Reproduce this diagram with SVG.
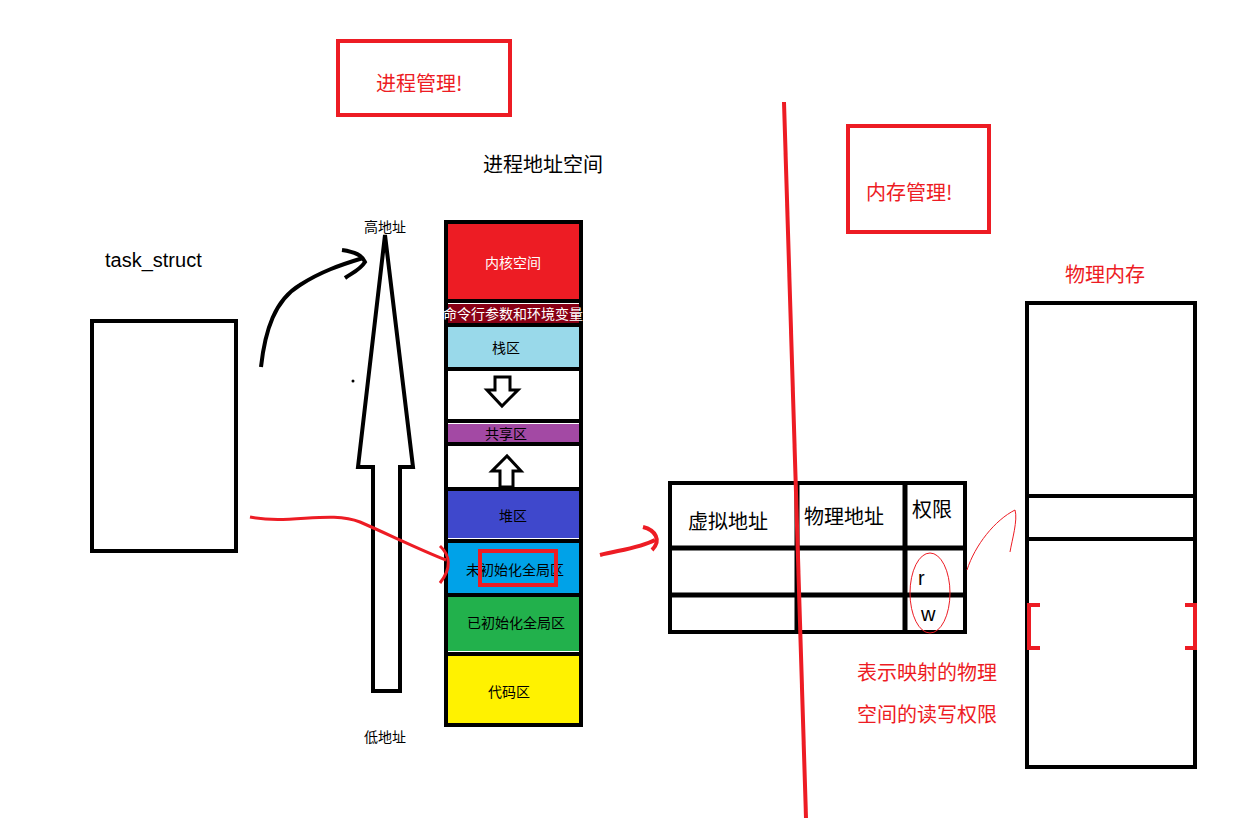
<svg xmlns="http://www.w3.org/2000/svg" width="1247" height="818" viewBox="0 0 1247 818">
<style>
text{font-family:"Microsoft YaHei","Noto Sans CJK SC",sans-serif}
.bk{fill:none;stroke:#000;stroke-width:4}
.rd{fill:none;stroke:#ed1c24;stroke-width:4}
.t{font-size:20px;fill:#000}
.r{font-size:20px;fill:#ed1c24}
.s{font-size:14px;text-anchor:middle}
</style>
<rect width="1247" height="818" fill="#fff"/>
<g id="title-proc"><rect x="338" y="41" width="172" height="74" class="rd"/><text x="376" y="91" class="r">进程管理!</text></g>
<text x="483" y="172" class="t" font-size="22">进程地址空间</text>
<g id="title-mem"><rect x="848" y="126" width="141" height="106" class="rd"/><text x="866" y="200" class="r">内存管理!</text></g>
<g id="task"><text x="105" y="267" class="t" style="font-family:'Liberation Sans',sans-serif">task_struct</text><rect x="92" y="321" width="144" height="230" class="bk"/></g>
<g id="addr-arrow">
<path d="M373,691 L373,467 L358,467 L385,235 L413,467 L400,467 L400,691 Z" class="bk" stroke-width="3"/>
<text x="385" y="232" class="s" font-size="15">高地址</text>
<text x="385" y="742" class="s" font-size="15">低地址</text>
<circle cx="353" cy="381" r="1.5" fill="#000"/>
</g>
<g id="stack">
<rect x="446" y="222" width="135" height="503" fill="#fff" stroke="#000" stroke-width="4"/>
<rect x="448" y="224" width="131" height="76" fill="#ed1c24"/>
<rect x="448" y="304" width="131" height="19" fill="#880015"/>
<rect x="448" y="327" width="131" height="40" fill="#99d9ea"/>
<rect x="448" y="424" width="131" height="18" fill="#a349a4"/>
<rect x="448" y="490" width="131" height="48" fill="#3f48cc"/>
<rect x="448" y="543" width="131" height="50" fill="#00a2e8"/>
<rect x="448" y="597" width="131" height="54" fill="#22b14c"/>
<rect x="448" y="656" width="131" height="67" fill="#fff200"/>
<g stroke="#000" stroke-width="4"><line x1="446" y1="301" x2="581" y2="301"/><line x1="446" y1="325" x2="581" y2="325"/><line x1="446" y1="369" x2="581" y2="369"/><line x1="446" y1="421" x2="581" y2="421"/><line x1="446" y1="444" x2="581" y2="444"/><line x1="446" y1="489" x2="581" y2="489"/><line x1="446" y1="541" x2="581" y2="541"/><line x1="446" y1="595" x2="581" y2="595"/><line x1="446" y1="654" x2="581" y2="654"/></g>
<text x="513" y="268" class="s" fill="#fff" font-size="15">内核空间</text>
<text x="513" y="319" class="s" fill="#fff" font-size="12">命令行参数和环境变量</text>
<text x="506" y="353" class="s" fill="#000" font-size="13">栈区</text>
<path d="M495,377 L510,377 L510,390 L518,390 L502,406 L487,390 L495,390 Z" fill="#fff" stroke="#000" stroke-width="3"/>
<text x="506" y="439" class="s" fill="#000" font-size="14">共享区</text>
<path d="M500,487 L500,471 L492,471 L507,456 L521,471 L513,471 L513,487 Z" fill="#fff" stroke="#000" stroke-width="3"/>
<text x="513" y="521" class="s" fill="#000" font-size="15">堆区</text>
<text x="515" y="575" class="s" fill="#000" font-size="16">未初始化全局区</text>
<rect x="480" y="551" width="76" height="34" fill="none" stroke="#ed1c24" stroke-width="4"/>
<text x="516" y="628" class="s" fill="#000" font-size="16">已初始化全局区</text>
<text x="509" y="697" class="s" fill="#000" font-size="15">代码区</text>
</g>
<g id="table">
<rect x="670" y="483" width="295" height="149" class="bk" stroke-width="5"/>
<g stroke="#000" stroke-width="5"><line x1="670" y1="548" x2="965" y2="548"/><line x1="670" y1="595" x2="965" y2="595"/><line x1="797" y1="483" x2="797" y2="632"/><line x1="905" y1="483" x2="905" y2="632"/></g>
<text x="688" y="529" class="t">虚拟地址</text><text x="804" y="524" class="t">物理地址</text><text x="912" y="517" class="t">权限</text>
<text x="918" y="585" class="t" style="font-family:'Liberation Sans',sans-serif">r</text><text x="921" y="621" class="t" style="font-family:'Liberation Sans',sans-serif">w</text>
</g>
<g id="phys">
<text x="1065" y="282" class="r">物理内存</text>
<rect x="1027" y="303" width="168" height="464" class="bk"/>
<line x1="1027" y1="496" x2="1195" y2="496" stroke="#000" stroke-width="4"/><line x1="1027" y1="539" x2="1195" y2="539" stroke="#000" stroke-width="4"/>
<path d="M1040,605 L1029,605 L1029,648 L1040,648 M1185,605 L1195,605 L1195,648 L1185,648" class="rd"/>
</g>
<text x="857" y="680" class="r">表示映射的物理</text><text x="857" y="722" class="r">空间的读写权限</text>
<g id="connectors">
<line x1="784" y1="102" x2="806" y2="818" stroke="#ed1c24" stroke-width="4"/>
<path d="M261,367 C265,330 275,300 300,285 C320,272 340,265 363,258" fill="none" stroke="#000" stroke-width="4"/>
<path d="M342,250 C355,252 362,255 365,262 C360,270 352,273 345,278" fill="none" stroke="#000" stroke-width="4"/>
<path d="M250,517 C290,525 330,510 360,522 C390,535 420,550 446,560" fill="none" stroke="#ed1c24" stroke-width="3"/>
<path d="M440,546 C450,555 452,568 440,583" fill="none" stroke="#ed1c24" stroke-width="3"/>
<path d="M600,555 C620,550 640,548 655,540" fill="none" stroke="#ed1c24" stroke-width="4"/>
<path d="M643,527 C655,530 662,540 652,550" fill="none" stroke="#ed1c24" stroke-width="4"/>
<path d="M967,570 C975,545 995,520 1015,510 C1018,520 1012,540 1010,552" fill="none" stroke="#ed1c24" stroke-width="1"/>
<ellipse cx="930" cy="593" rx="20" ry="40" fill="none" stroke="#ed1c24" stroke-width="1"/>
</g>
</svg>
